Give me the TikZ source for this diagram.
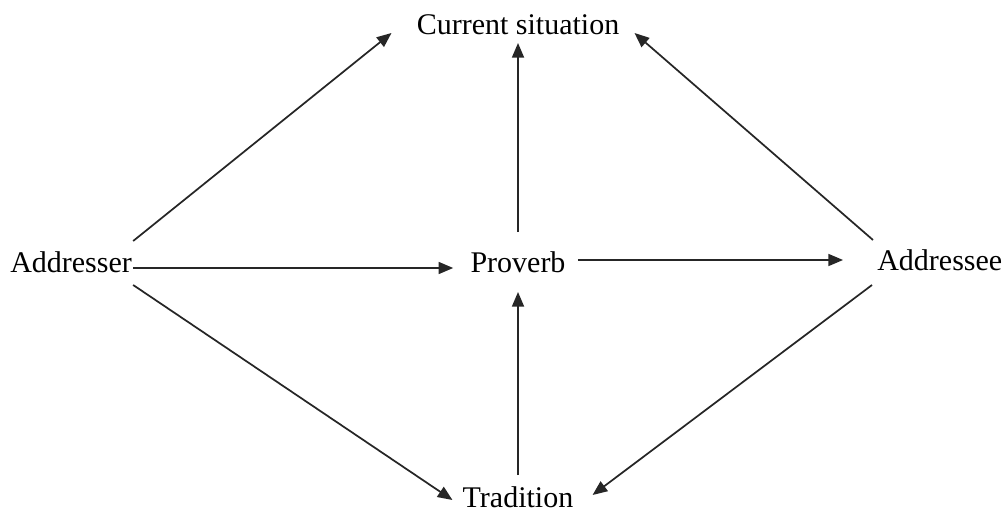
\documentclass[tikz,border=0pt]{standalone}
\usepackage{fontspec}
\setmainfont{Liberation Serif}
\usetikzlibrary{arrows.meta,calc,positioning}

\begin{document}
\begin{tikzpicture}[x=0.75pt, y=-0.75pt,
    every node/.style={inner sep=0pt, font=\fontsize{22.5}{27}\selectfont},
    EdgeStyle/.style={-{Triangle[length=11pt,width=9pt]}, line width=1.3pt, black!85}]
    \useasboundingbox (0,0) rectangle (1005,513);
    \node[anchor=base] (cur) at (518,35) {Current situation};
    \node[anchor=base west] (addr) at (10,272) {Addresser};
    \node[anchor=base] (prov) at (518,272) {Proverb};
    \node[anchor=base west] (addee) at (877,270) {Addressee};
    \node[anchor=base] (trad) at (518,507) {Tradition};
    \draw[EdgeStyle] ($(addr.base east)+(1,-31)$) -- ($(cur.base west)+(-25,-2)$);
    \draw[EdgeStyle] ($(addr.base east)+(1,-4)$) -- ($(prov.base west)+(-17,-4)$);
    \draw[EdgeStyle] ($(addr.base east)+(1,13)$) -- ($(trad.base west)+(-10,-7)$);
    \draw[EdgeStyle] ($(prov.base)+(0,-40)$) -- ($(cur.base)+(0,8)$);
    \draw[EdgeStyle] ($(prov.base east)+(12,-12)$) -- ($(addee.base west)+(-34,-10)$);
    \draw[EdgeStyle] ($(addee.base west)+(-4,-30)$) -- ($(cur.base east)+(15,-2)$);
    \draw[EdgeStyle] ($(addee.base west)+(-5,15)$) -- ($(trad.base east)+(19,-12)$);
    \draw[EdgeStyle] ($(trad.base)+(0,-32)$) -- ($(prov.base)+(0,20)$);
  \end{tikzpicture}
\end{document}
